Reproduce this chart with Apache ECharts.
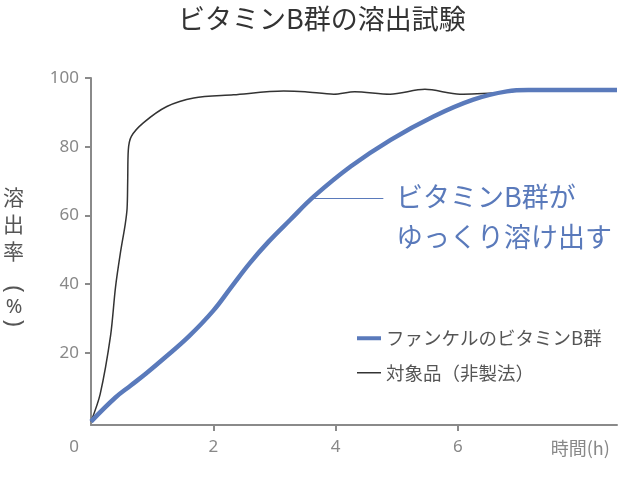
<!DOCTYPE html>
<html>
<head>
<meta charset="utf-8">
<script src="https://cdn.jsdelivr.net/npm/echarts@6/dist/echarts.min.js"></script>
<style>
  html, body { margin: 0; padding: 0; background: #fff; }
  #chart { width: 630px; height: 480px; }
</style>
</head>
<body>
<div id="chart"></div>
<script>
// 溶出データ
const fanclX = [0, 0.4, 0.65, 0.9, 1.2, 1.6, 2.0, 2.3, 2.6, 2.9, 3.25, 3.65, 4.25, 4.9, 5.6, 6.25, 6.8, 7.15, 8.6];
const fanclY = [0, 7, 10.5, 14, 18.5, 24.8, 32.3, 39.3, 46.2, 52.3, 58.6, 65.6, 74.3, 82, 88.8, 93.7, 96.1, 96.5, 96.5];
const otherX = [0, 0.15, 0.32, 0.4, 0.48, 0.56, 0.59, 0.6, 0.61, 0.66, 0.86, 1.24, 1.68, 2.33, 3.15, 3.5, 3.97, 4.31, 4.89, 5.46, 6.03, 6.73, 7.2, 8.6];
const otherY = [0, 8, 25, 39, 49, 57.5, 62, 70, 79, 83, 87, 91.7, 94.2, 95.1, 96.2, 96.0, 95.3, 96.0, 95.3, 96.7, 95.3, 95.8, 96.5, 96.5];
const seriesNames = ['ファンケルのビタミンB群', '対象品（非製法）'];
const yTicks = [20, 40, 60, 80, 100];
const xLabels = [0, 2, 4, 6, 8];
const xTicks = [2, 4, 6];
const leader = [[3.62, 65.1], [4.78, 65.1]];

const pairs = (xs, ys) => xs.map((x, i) => [x, ys[i]]);

const font = "'Noto Sans CJK JP', 'Noto Sans', sans-serif";
const numFont = "'Noto Sans', 'Noto Sans CJK JP', sans-serif";
const blue = '#5a7abb';
const axisGray = '#8a8a8a';

// 凡例アイコン（線だけ）: M点で枠を24x14に固定して太さを保つ
const iconThick = 'path://M0,0M24,14M0,5H24V9H0Z';
const iconThin = 'path://M0,0M24,14M0,6.25H24V7.75H0Z';

const myChart = echarts.init(document.getElementById('chart'));
const option = {
  animation: false,
  textStyle: { fontFamily: font },
  title: {
    text: 'ビタミンB群の溶出試験',
    left: 173,
    top: 0,
    textStyle: { fontSize: 27, fontWeight: 'normal', color: '#333', fontFamily: font }
  },
  legend: {
    orient: 'vertical',
    left: 352,
    top: 324,
    itemWidth: 24,
    itemHeight: 14,
    itemGap: 16,
    textStyle: { fontSize: 18.5, color: '#555', fontFamily: font },
    data: [
      { name: seriesNames[0], icon: iconThick },
      { name: seriesNames[1], icon: iconThin }
    ]
  },
  grid: { left: 91, right: 13, top: 78, bottom: 55 },
  xAxis: {
    type: 'value',
    min: 0,
    max: 8.6,
    interval: 2,
    splitLine: { show: false },
    axisLine: { onZero: false, lineStyle: { color: axisGray, width: 2 } },
    axisTick: { show: true, length: 6, lineStyle: { color: axisGray, width: 2 }, customValues: xTicks },
    axisLabel: {
      customValues: xLabels,
      margin: 14,
      fontSize: 17,
      color: '#888',
      fontFamily: numFont,
      formatter: function (v) {
        if (v === 0) return '{zero|0}';
        if (v === 8) return '{unit|時間(h)}';
        return String(v);
      },
      rich: {
        zero: { fontSize: 17, color: '#888', fontFamily: numFont, padding: [0, 34, 0, 0] },
        unit: { fontSize: 18, color: '#888', fontFamily: font }
      }
    }
  },
  yAxis: {
    type: 'value',
    min: -1,
    max: 100,
    splitLine: { show: false },
    axisLine: { show: true, lineStyle: { color: axisGray, width: 2 } },
    axisTick: { show: true, length: 6, lineStyle: { color: axisGray, width: 2 }, customValues: yTicks },
    axisLabel: { customValues: yTicks, margin: 12, fontSize: 17, color: '#888', fontFamily: numFont }
  },
  graphic: [
    {
      type: 'text',
      left: 3,
      top: 184,
      style: {
        text: '溶\n出\n率',
        font: '21px ' + font,
        fill: '#555',
        lineHeight: 27,
        align: 'center'
      }
    },
    // 縦書きの括弧（横向きに回転）
    {
      type: 'group',
      x: 14,
      y: 289,
      rotation: -Math.PI / 2,
      children: [{
        type: 'text',
        style: { text: '(', font: '24px ' + numFont, fill: '#555', align: 'center', verticalAlign: 'middle' }
      }]
    },
    {
      type: 'text',
      x: 14,
      y: 307,
      style: { text: '%', font: '20px ' + numFont, fill: '#555', align: 'center', verticalAlign: 'middle' }
    },
    {
      type: 'group',
      x: 14,
      y: 323,
      rotation: -Math.PI / 2,
      children: [{
        type: 'text',
        style: { text: ')', font: '24px ' + numFont, fill: '#555', align: 'center', verticalAlign: 'middle' }
      }]
    },
    {
      type: 'text',
      left: 396,
      top: 177,
      style: {
        text: 'ビタミンB群が\nゆっくり溶け出す',
        font: '27px ' + font,
        fill: blue,
        lineHeight: 40
      }
    }
  ],
  series: [
    {
      name: seriesNames[0],
      type: 'line',
      smooth: 0.4,
      symbol: 'none',
      z: 3,
      lineStyle: { color: blue, width: 4.5 },
      itemStyle: { color: blue },
      data: pairs(fanclX, fanclY),
      markLine: {
        silent: true,
        symbol: 'none',
        label: { show: false },
        lineStyle: { color: blue, width: 1, type: 'solid' },
        data: [[{ coord: leader[0] }, { coord: leader[1] }]]
      }
    },
    {
      name: seriesNames[1],
      type: 'line',
      smooth: 0.3,
      symbol: 'none',
      z: 2,
      lineStyle: { color: '#333', width: 1.5 },
      itemStyle: { color: '#333' },
      data: pairs(otherX, otherY)
    }
  ]
};
myChart.setOption(option);
</script>
</body>
</html>
